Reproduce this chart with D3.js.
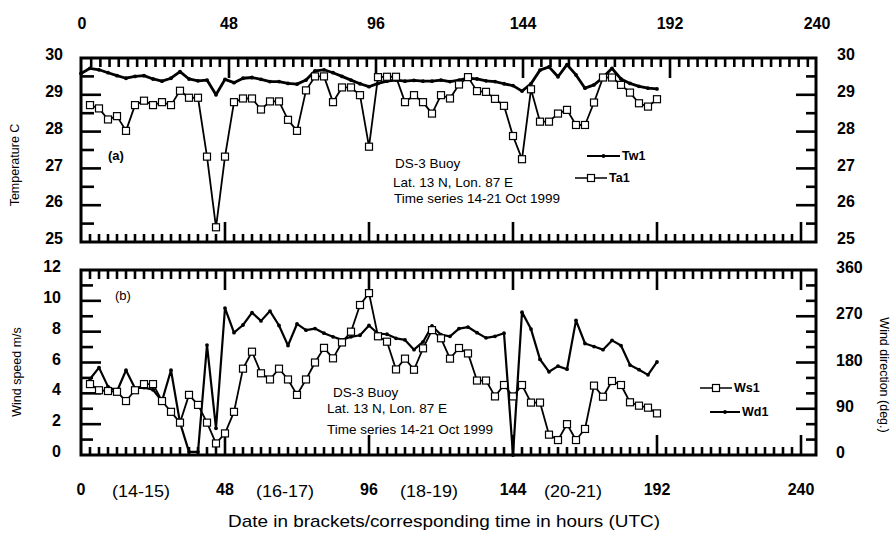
<!DOCTYPE html>
<html>
<head>
<meta charset="utf-8">
<script src="https://cdnjs.cloudflare.com/ajax/libs/d3/7.8.5/d3.min.js"></script>
<style>
body { margin: 0; background: #fff; }
svg { font-family: "Liberation Sans", Arial, sans-serif; }
</style>
</head>
<body>
<script>
// 3-hourly record, hours from 00 UTC 14 Oct 1999
var hours = d3.range(3, 193, 3);
var hoursTw = d3.range(0, 193, 3);

// sea surface (Tw1) and air (Ta1) temperature, deg C
var tw1 = [29.58, 29.72, 29.68, 29.6, 29.52, 29.45, 29.5, 29.52, 29.43, 29.37,
           29.45, 29.63, 29.43, 29.38, 29.4, 29.0, 29.42, 29.33, 29.45, 29.47,
           29.42, 29.36, 29.36, 29.31, 29.29, 29.4, 29.65, 29.68, 29.6, 29.5,
           29.4, 29.3, 29.22, 29.31, 29.37, 29.4, 29.37, 29.39, 29.37, 29.37,
           29.4, 29.36, 29.4, 29.45, 29.43, 29.38, 29.36, 29.3, 29.25, 29.1,
           29.3, 29.67, 29.76, 29.49, 29.82, 29.54, 29.18, 29.27, 29.47, 29.72,
           29.43, 29.31, 29.23, 29.18, 29.16];
var ta1 = [28.72, 28.63, 28.33, 28.42, 28.02, 28.72, 28.84, 28.72, 28.8, 28.72,
           29.11, 28.92, 28.92, 27.32, 25.4, 27.32, 28.8, 28.9, 28.9, 28.6,
           28.82, 28.82, 28.32, 28.02, 29.12, 29.5, 29.5, 28.8, 29.2, 29.2,
           28.99, 27.59, 29.48, 29.49, 29.49, 28.8, 28.99, 28.8, 28.49, 28.99,
           28.9, 29.28, 29.48, 29.1, 29.08, 28.89, 28.7, 27.88, 27.25, 29.15,
           28.27, 28.27, 28.49, 28.59, 28.18, 28.18, 28.79, 29.47, 29.47, 29.27,
           29.06, 28.77, 28.68, 28.88];

// wind speed (m/s) and wind direction (deg)
var ws1 = [4.6, 4.2, 4.15, 4.1, 3.5, 4.2, 4.6, 4.6, 3.5, 2.8,
           2.1, 3.9, 3.25, 2.1, 0.75, 1.4, 2.8, 5.6, 6.7, 5.3,
           4.9, 5.6, 4.9, 3.9, 4.9, 6.0, 6.95, 6.27, 7.3, 8.0,
           9.73, 10.5, 7.7, 7.35, 5.55, 6.25, 5.53, 6.92, 8.1, 7.57,
           6.25, 6.94, 6.59, 4.83, 4.83, 3.8, 4.54, 3.8, 4.54, 3.4,
           3.4, 1.32, 0.97, 2.0, 0.97, 1.69, 4.5, 3.78, 4.8, 4.54,
           3.42, 3.2, 3.07, 2.7];
var wd1 = [148, 170, 133, 124, 165, 130, 131, 127, 105, 165,
           63, 6, 6, 214, 52, 286, 238, 253, 277, 261,
           280, 252, 213, 255, 243, 246, 237, 230, 224, 230,
           233, 252, 236, 235, 227, 224, 205, 220, 251, 234,
           231, 246, 249, 238, 228, 231, 237, 0, 278, 245,
           186, 162, 173, 167, 262, 217, 211, 205, 223, 213,
           175, 166, 156, 181];

var hourTicks = [0, 48, 96, 144, 192, 240];
var tempTicks = [25, 26, 27, 28, 29, 30];
var speedTicks = [0, 2, 4, 6, 8, 10, 12];
var dirTicks = [0, 90, 180, 270, 360];
var dateLabels = ["(14-15)", "(16-17)", "(18-19)", "(20-21)"];
var dateHours = [20, 68, 116, 164];

var svg = d3.select("body").append("svg")
    .attr("width", 895)
    .attr("height", 537)
    .style("display", "block");

// scales: the top hour labels were set a little wider than the data axis
var x = d3.scaleLinear().domain([0, 245]).range([81, 816]);
var xTop = d3.scaleLinear().domain([0, 240]).range([82, 817]);
var yT = d3.scaleLinear().domain([25, 30]).range([242, 58]);
var yS = d3.scaleLinear().domain([0, 12]).range([455, 270]);
var yD = d3.scaleLinear().domain([0, 360]).range([455, 270]);

var minorHours = d3.range(3, 241, 3).filter(function(d) { return d % 48; });
var majorHours = [48, 96, 144, 192, 240];

// inward tick marks placed by a scale; dir is the way they point
function tickMarks(values, scale, dir, pos, size) {
    svg.append("g")
        .selectAll("line")
        .data(values)
        .enter()
        .append("line")
        .attr("x1", function(d) { return dir === "down" || dir === "up" ? scale(d) : pos; })
        .attr("x2", function(d) {
            if (dir === "down" || dir === "up") return scale(d);
            return dir === "right" ? pos + size : pos - size;
        })
        .attr("y1", function(d) { return dir === "down" || dir === "up" ? pos : scale(d); })
        .attr("y2", function(d) {
            if (dir === "left" || dir === "right") return scale(d);
            return dir === "down" ? pos + size : pos - size;
        })
        .attr("stroke", "#000")
        .attr("stroke-width", 2.6);
}

// panel (a)
tickMarks(minorHours.filter(function(d) { return d < 240; }), xTop, "down", 58, 9);
tickMarks([48, 96, 144, 192], xTop, "down", 58, 20);
tickMarks(minorHours, x, "up", 242, 8);
tickMarks(majorHours, x, "up", 242, 20);
tickMarks([25.5, 26.5, 27.5, 28.5, 29.5], yT, "right", 81, 13);
tickMarks([26, 27, 28, 29], yT, "right", 81, 20);
tickMarks([25.5, 26.5, 27.5, 28.5, 29.5], yT, "left", 816, 10);
tickMarks([26, 27, 28, 29], yT, "left", 816, 20);

// panel (b)
tickMarks(minorHours, x, "down", 270, 9);
tickMarks(majorHours, x, "down", 270, 20);
tickMarks(minorHours, x, "up", 455, 8);
tickMarks(majorHours, x, "up", 455, 20);
tickMarks([1, 3, 5, 7, 9, 11], yS, "right", 81, 12);
tickMarks([2, 4, 6, 8, 10], yS, "right", 81, 20);
tickMarks([30, 60, 120, 150, 210, 240, 300, 330], yD, "left", 816, 10);
tickMarks([90, 180, 270], yD, "left", 816, 20);

// frames
svg.append("rect")
    .attr("x", x(0)).attr("y", yT(30))
    .attr("width", x(245) - x(0)).attr("height", yT(25) - yT(30))
    .attr("fill", "none").attr("stroke", "#000").attr("stroke-width", 3);
svg.append("rect")
    .attr("x", x(0)).attr("y", yS(12))
    .attr("width", x(245) - x(0)).attr("height", yS(0) - yS(12))
    .attr("fill", "none").attr("stroke", "#000").attr("stroke-width", 3);

// ---- axis numbers, placed with the scales
function numbers(values, fx, fy, anchor, dy) {
    svg.append("g")
        .selectAll("text")
        .data(values)
        .enter()
        .append("text")
        .attr("x", fx)
        .attr("y", fy)
        .attr("dy", dy)
        .attr("text-anchor", anchor)
        .attr("font-size", 16)
        .attr("font-weight", "bold")
        .text(function(d) { return d; });
}
numbers(hourTicks, function(d) { return xTop(d); }, 29, "middle", "0");
numbers(hourTicks, function(d) { return x(d); }, 484, "middle", "0.71em");
numbers(tempTicks, 63, function(d) { return yT(d) - 3; }, "end", "0.32em");
numbers(tempTicks, 837, function(d) { return yT(d) - 3; }, "start", "0.32em");
numbers(speedTicks, 61, function(d) { return yS(d) - 3; }, "end", "0.32em");
numbers(dirTicks, 836, function(d) { return yD(d) - 2; }, "start", "0.32em");

svg.append("g")
    .selectAll("text")
    .data(dateLabels)
    .enter()
    .append("text")
    .attr("x", function(d, i) { return x(dateHours[i]); })
    .attr("y", 497)
    .attr("text-anchor", "middle")
    .attr("font-size", 17)
    .attr("textLength", 58)
    .attr("lengthAdjust", "spacingAndGlyphs")
    .text(function(d) { return d; });

svg.append("text")
    .attr("x", 444).attr("y", 527)
    .attr("text-anchor", "middle")
    .attr("font-size", 17)
    .attr("textLength", 432)
    .attr("lengthAdjust", "spacingAndGlyphs")
    .text("Date in brackets/corresponding  time in hours (UTC)");

svg.append("text")
    .attr("transform", "translate(19,165) rotate(-90)")
    .attr("text-anchor", "middle")
    .attr("font-size", 12.5)
    .text("Temperature C");
svg.append("text")
    .attr("transform", "translate(21,372) rotate(-90)")
    .attr("text-anchor", "middle")
    .attr("font-size", 12.5)
    .text("Wind speed m/s");
svg.append("text")
    .attr("transform", "translate(880,375) rotate(90)")
    .attr("text-anchor", "middle")
    .attr("font-size", 12.5)
    .text("Wind direction (deg.)");

// ---- series
function drawSeries(ts, vals, yScale, width) {
    var pts = ts.map(function(t, i) { return [t, vals[i]]; });
    var line = d3.line()
        .x(function(d) { return x(d[0]); })
        .y(function(d) { return yScale(d[1]); });
    svg.append("path")
        .datum(pts)
        .attr("d", line)
        .attr("fill", "none")
        .attr("stroke", "#000")
        .attr("stroke-width", width)
        .attr("stroke-linejoin", "round");
    return pts;
}

function drawDots(pts, yScale) {
    svg.append("g")
        .selectAll("circle")
        .data(pts)
        .enter()
        .append("circle")
        .attr("cx", function(d) { return x(d[0]); })
        .attr("cy", function(d) { return yScale(d[1]); })
        .attr("r", 1.9)
        .attr("fill", "#000");
}

function drawSquares(pts, yScale) {
    svg.append("g")
        .selectAll("rect")
        .data(pts)
        .enter()
        .append("rect")
        .attr("x", function(d) { return x(d[0]) - 3.5; })
        .attr("y", function(d) { return yScale(d[1]) - 3.5; })
        .attr("width", 7)
        .attr("height", 7)
        .attr("fill", "#fff")
        .attr("stroke", "#000")
        .attr("stroke-width", 1.2);
}

var taPts = drawSeries(hours, ta1, yT, 1.8);
var twPts = drawSeries(hoursTw, tw1, yT, 2.8);
drawDots(twPts, yT);
drawSquares(taPts, yT);

var wdPts = drawSeries(hours, wd1, yD, 2.2);
var wsPts = drawSeries(hours, ws1, yS, 1.8);
drawDots(wdPts, yD);
drawSquares(wsPts, yS);

// ---- annotations
function note(lines, xs, ys, size) {
    lines.forEach(function(s, i) {
        svg.append("text")
            .attr("x", xs[i]).attr("y", ys[i])
            .attr("font-size", size)
            .text(s);
    });
}
var noteLines = ["DS-3 Buoy", "Lat. 13 N, Lon. 87 E", "Time series 14-21 Oct 1999"];
note(noteLines, [395, 393, 394], [168, 187, 203], 13.5);
note(noteLines, [333, 327, 327], [397, 413, 434], 13.5);

svg.append("text").attr("x", 108).attr("y", 160)
    .attr("font-size", 13).attr("font-weight", "bold").text("(a)");
svg.append("text").attr("x", 115).attr("y", 300)
    .attr("font-size", 13).text("(b)");

// legends
function legendItem(x0, x1, yy, label, kind, width) {
    svg.append("line")
        .attr("x1", x0).attr("x2", x1).attr("y1", yy).attr("y2", yy)
        .attr("stroke", "#000").attr("stroke-width", width);
    var mx = (x0 + x1) / 2;
    if (kind === "dot") {
        svg.append("circle").attr("cx", mx).attr("cy", yy).attr("r", 1.9);
    } else {
        svg.append("rect").attr("x", mx - 3.5).attr("y", yy - 3.5)
            .attr("width", 7).attr("height", 7)
            .attr("fill", "#fff").attr("stroke", "#000").attr("stroke-width", 1.2);
    }
    svg.append("text")
        .attr("x", x1 + 2).attr("y", yy + 4)
        .attr("font-size", 12.5).attr("font-weight", "bold")
        .text(label);
}
legendItem(587, 620, 156, "Tw1", "dot", 2);
legendItem(575, 607, 178, "Ta1", "square", 1.5);
legendItem(700, 732, 388, "Ws1", "square", 1.5);
legendItem(710, 740, 412, "Wd1", "dot", 2);
</script>
</body>
</html>
